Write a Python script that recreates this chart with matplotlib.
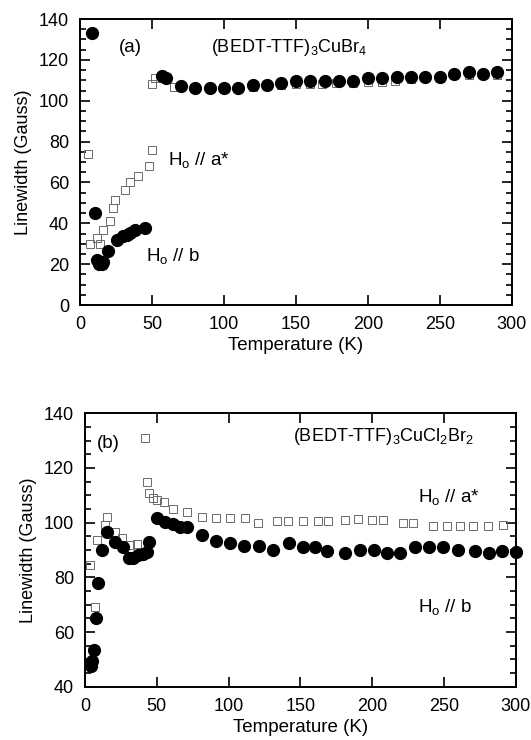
import matplotlib
matplotlib.use("Agg")
import matplotlib.pyplot as plt
from matplotlib.ticker import MultipleLocator

plt.rcParams["font.family"] = ["Liberation Sans", "DejaVu Sans"]
plt.rcParams["mathtext.fontset"] = "custom"
plt.rcParams["mathtext.rm"] = "Liberation Sans"
plt.rcParams["mathtext.it"] = "Liberation Sans:italic"

# ---- (a) (BEDT-TTF)3CuBr4 ----
a_b_T = [8, 10.5, 12, 13.5, 15, 16, 19.7, 25.5, 29.7, 32.5, 34.7, 38.2, 45.2,
         57, 60, 70, 80, 90, 100, 110, 120, 130, 140, 150, 160, 170, 180, 190,
         200, 210, 220, 230, 240, 250, 260, 270, 280, 290]
a_b_L = [133, 45, 22, 20, 20, 21, 26.5, 32, 33.6, 34.4, 35.5, 36.5, 37.6,
         112, 111, 107, 106, 106, 106, 106, 107.5, 107.5, 108.5, 109.5, 109.5, 109.7, 109.7, 109.7,
         111, 111, 111.5, 111.5, 111.5, 111.5, 113, 114, 113, 114]

a_a_T = [5.8, 7, 11.6, 13.9, 16.2, 20.8, 23.1, 24.3, 31.3, 34.7, 40.5, 48.2, 49.8,
         50, 52, 65, 80, 100, 120, 140, 150, 160, 168, 178, 190, 200, 210, 219,
         230, 250, 270, 290]
a_a_L = [73.7, 30, 32.8, 30, 36.8, 41, 47.6, 51.6, 56.5, 60, 63, 68, 76,
         108, 111, 106.5, 106, 106, 106.5, 107.5, 108, 108, 108, 108.5, 108.5, 109, 109, 109.5,
         110.5, 111, 112.5, 112.5]

# ---- (b) (BEDT-TTF)3CuCl2Br2 ----
b_b_T = [4, 5, 6, 7.5, 9.3, 12, 15.5, 20.9, 26.3, 30.6, 33.6, 37.1, 40.2, 43, 44.8,
         49.9, 55.7, 61.1, 66.2, 70.8, 81.3, 91, 101, 111, 121.4, 131.2, 142.1, 151.6,
         160.2, 168.4, 181.1, 191.5, 201.3, 210.1, 219.4, 229.9, 239.8, 249.6, 260,
         271.6, 281.6, 290.2, 300]
b_b_L = [47.5, 49.5, 53.5, 65, 78, 90, 96.5, 93, 91.2, 87, 87, 88.2, 88.5, 89.4, 93,
         101.6, 100.4, 99.5, 98.5, 98.5, 95.5, 93.3, 92.5, 91.6, 91.6, 90, 92.5, 91.2,
         91, 89.7, 89, 90, 90, 88.8, 88.8, 91.2, 91.2, 91.2, 90,
         89.7, 88.8, 89.7, 89.2]

b_a_T = [3.5, 6.9, 8.1, 13.9, 15.1, 20.9, 25.6, 31.3, 36, 41.8, 43, 44.8, 47.6, 49.9,
         55.2, 61.1, 70.8, 81.3, 91, 101, 111.4, 120.7, 133.5, 141.6, 151.6, 162.5,
         169.4, 181.1, 190.4, 199.7, 207.8, 221.7, 228.7, 242.6, 251.9, 261.2, 270.5,
         281, 291.4]
b_a_L = [84.5, 69.2, 93.7, 99.1, 102, 96.7, 94.3, 91.8, 92.2, 131, 114.8, 110.7, 109.1, 108.3,
         107.7, 104.9, 103.8, 102, 101.6, 101.6, 101.6, 99.8, 100.5, 100.5, 100.5, 100.5,
         100.5, 101, 101.2, 101, 101, 99.8, 99.8, 98.8, 98.8, 98.8, 98.8,
         98.8, 99.1]

x_ticks = [0, 50, 100, 150, 200, 250, 300]

fig = plt.figure(figsize=(5.31, 7.40), dpi=100)
ax_a = fig.add_axes([0.1507, 0.5878, 0.9636 - 0.1507, 0.9743 - 0.5878])
ax_b = fig.add_axes([0.1601, 0.0720, 0.9711 - 0.1601, 0.4415 - 0.0720])

sq_kw = dict(marker="s", ls="none", ms=6, mfc="none", mec="#6a6a6a", mew=0.7)
ci_kw = dict(marker="o", ls="none", ms=8.5, mfc="black", mec="black", clip_on=False)


def style(ax, ylim, ymajor):
    ax.set_xlim(0, 300)
    ax.set_ylim(*ylim)
    ax.set_xticks(x_ticks)
    ax.yaxis.set_major_locator(MultipleLocator(ymajor))
    ax.yaxis.set_minor_locator(MultipleLocator(5))
    ax.tick_params(which="both", direction="in", top=True, right=True,
                   labelsize=13, width=1.2, pad=8)
    ax.tick_params(which="major", length=7)
    ax.tick_params(which="minor", length=4)
    ax.tick_params(axis="x", which="minor", bottom=False, top=False)
    for s in ax.spines.values():
        s.set_linewidth(1.4)
    ax.set_xlabel("Temperature (K)", fontsize=13.5, labelpad=3)
    ax.set_ylabel("Linewidth (Gauss)", fontsize=13, labelpad=5)


ax_a.plot(a_a_T, a_a_L, **sq_kw)
ax_a.plot(a_b_T, a_b_L, **ci_kw)
style(ax_a, (0, 140), 20)
ax_a.text(35, 126, "(a)", fontsize=13.5, ha="center", va="center")
ax_a.text(91, 126, "(BEDT-TTF)$_3$CuBr$_4$", fontsize=13, va="center")
ax_a.text(61, 71, "H$_\\mathregular{o}$ // a*", fontsize=13.5, va="center")
ax_a.text(46, 24, "H$_\\mathregular{o}$ // b", fontsize=13.5, va="center")

ax_b.plot(b_a_T, b_a_L, **sq_kw)
ax_b.plot(b_b_T, b_b_L, **ci_kw)
style(ax_b, (40, 140), 20)
ax_b.text(8, 129, "(b)", fontsize=13.5, va="center")
ax_b.text(145, 131.5, "(BEDT-TTF)$_3$CuCl$_2$Br$_2$", fontsize=13, va="center")
ax_b.text(232, 109.5, "H$_\\mathregular{o}$ // a*", fontsize=13.5, va="center")
ax_b.text(232, 69, "H$_\\mathregular{o}$ // b", fontsize=13.5, va="center")

fig.savefig("out.png", dpi=100)
